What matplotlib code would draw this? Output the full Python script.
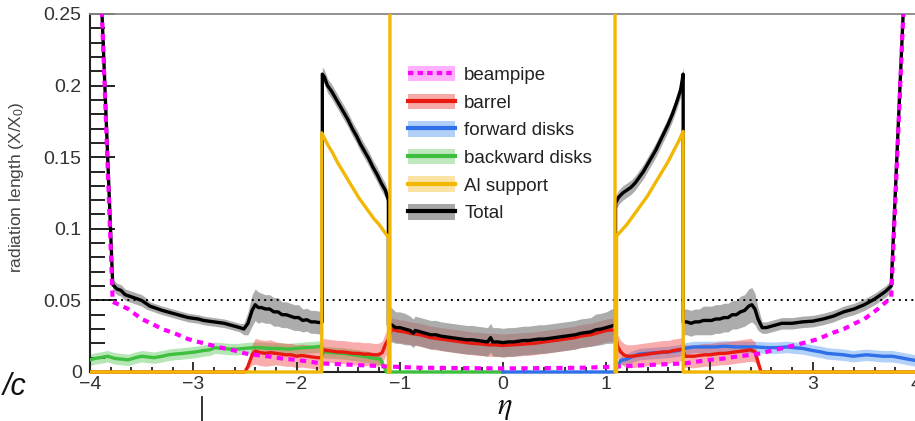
import numpy as np
import matplotlib
matplotlib.use('Agg')
import matplotlib.pyplot as plt
from matplotlib.lines import Line2D
from matplotlib.patches import Patch
from matplotlib.transforms import Bbox, TransformedBbox
from matplotlib.ticker import MultipleLocator

plt.rcParams['font.family'] = ['Liberation Sans', 'DejaVu Sans']
plt.rcParams['mathtext.fontset'] = 'custom'
plt.rcParams['mathtext.rm'] = 'Liberation Sans'
plt.rcParams['mathtext.it'] = 'Liberation Sans:italic'

# material budget vs eta, rows are (eta, X/X0, uncertainty)
total_rows = [
    (-3.90, 0.280, 0.004), (-3.78, 0.061, 0.004), (-3.74, 0.058, 0.004), (-3.70, 0.057, 0.004),
    (-3.66, 0.054, 0.004), (-3.62, 0.053, 0.004), (-3.58, 0.052, 0.004), (-3.54, 0.051, 0.004),
    (-3.50, 0.050, 0.004), (-3.46, 0.048, 0.004), (-3.42, 0.046, 0.003), (-3.38, 0.045, 0.003),
    (-3.34, 0.044, 0.003), (-3.30, 0.043, 0.003), (-3.25, 0.042, 0.003), (-3.20, 0.041, 0.003),
    (-3.15, 0.040, 0.003), (-3.10, 0.039, 0.003), (-3.05, 0.038, 0.003), (-3.00, 0.0375, 0.003),
    (-2.95, 0.037, 0.003), (-2.90, 0.036, 0.003), (-2.85, 0.0355, 0.003), (-2.80, 0.035, 0.003),
    (-2.75, 0.0345, 0.003), (-2.70, 0.034, 0.003), (-2.65, 0.033, 0.003), (-2.60, 0.032, 0.003),
    (-2.55, 0.031, 0.003), (-2.51, 0.030, 0.004), (-2.47, 0.034, 0.008), (-2.43, 0.043, 0.011),
    (-2.40, 0.047, 0.011), (-2.37, 0.045, 0.011), (-2.34, 0.045, 0.010), (-2.30, 0.044, 0.010),
    (-2.26, 0.044, 0.010), (-2.22, 0.042, 0.010), (-2.18, 0.042, 0.010), (-2.14, 0.040, 0.009),
    (-2.10, 0.040, 0.009), (-2.06, 0.039, 0.009), (-2.02, 0.038, 0.009), (-1.98, 0.038, 0.009),
    (-1.94, 0.036, 0.008), (-1.90, 0.0365, 0.008), (-1.86, 0.035, 0.008), (-1.82, 0.035, 0.008),
    (-1.78, 0.0345, 0.008), (-1.75, 0.035, 0.008),
    (-1.75, 0.208, 0.005), (-1.73, 0.206, 0.005), (-1.70, 0.200, 0.005), (-1.66, 0.196, 0.005),
    (-1.62, 0.191, 0.005), (-1.58, 0.186, 0.005), (-1.54, 0.181, 0.005), (-1.50, 0.176, 0.005),
    (-1.46, 0.170, 0.005), (-1.42, 0.165, 0.005), (-1.38, 0.159, 0.005), (-1.34, 0.154, 0.005),
    (-1.30, 0.149, 0.005), (-1.26, 0.143, 0.005), (-1.22, 0.138, 0.005), (-1.18, 0.132, 0.005),
    (-1.14, 0.127, 0.005), (-1.11, 0.120, 0.005),
    (-1.11, 0.033, 0.011), (-1.08, 0.033, 0.012), (-1.04, 0.031, 0.011), (-1.00, 0.031, 0.011),
    (-0.95, 0.030, 0.011), (-0.90, 0.029, 0.010), (-0.87, 0.027, 0.010), (-0.85, 0.029, 0.010),
    (-0.80, 0.028, 0.010), (-0.75, 0.027, 0.010), (-0.70, 0.026, 0.010), (-0.65, 0.026, 0.010),
    (-0.60, 0.025, 0.010), (-0.55, 0.0245, 0.010), (-0.50, 0.024, 0.010), (-0.45, 0.0235, 0.010),
    (-0.40, 0.023, 0.010), (-0.35, 0.0225, 0.010), (-0.30, 0.0225, 0.010), (-0.25, 0.022, 0.010),
    (-0.20, 0.0215, 0.010), (-0.15, 0.021, 0.010), (-0.12, 0.024, 0.010), (-0.10, 0.021, 0.010),
    (-0.05, 0.021, 0.010), (0.00, 0.0205, 0.010), (0.05, 0.021, 0.010), (0.10, 0.021, 0.010),
    (0.15, 0.0215, 0.010), (0.20, 0.022, 0.010), (0.25, 0.022, 0.010), (0.30, 0.0225, 0.010),
    (0.35, 0.023, 0.010), (0.40, 0.023, 0.010), (0.45, 0.0235, 0.010), (0.50, 0.024, 0.010),
    (0.55, 0.0245, 0.010), (0.60, 0.025, 0.010), (0.65, 0.0255, 0.010), (0.70, 0.026, 0.010),
    (0.75, 0.027, 0.010), (0.80, 0.0275, 0.010), (0.85, 0.028, 0.010), (0.90, 0.0295, 0.011),
    (0.95, 0.030, 0.011), (1.00, 0.031, 0.011), (1.05, 0.032, 0.012), (1.09, 0.033, 0.012),
    (1.09, 0.118, 0.005), (1.12, 0.122, 0.005), (1.16, 0.125, 0.005), (1.20, 0.127, 0.005),
    (1.24, 0.129, 0.005), (1.28, 0.132, 0.005), (1.32, 0.136, 0.005), (1.36, 0.140, 0.005),
    (1.40, 0.145, 0.005), (1.44, 0.150, 0.005), (1.48, 0.155, 0.005), (1.52, 0.161, 0.005),
    (1.56, 0.167, 0.005), (1.60, 0.173, 0.005), (1.64, 0.180, 0.005), (1.68, 0.188, 0.005),
    (1.72, 0.197, 0.005), (1.745, 0.208, 0.005),
    (1.745, 0.035, 0.009), (1.78, 0.035, 0.009), (1.82, 0.034, 0.009), (1.86, 0.035, 0.009),
    (1.90, 0.035, 0.009), (1.94, 0.036, 0.010), (1.98, 0.036, 0.010), (2.02, 0.036, 0.010),
    (2.06, 0.037, 0.010), (2.10, 0.037, 0.010), (2.14, 0.038, 0.010), (2.18, 0.038, 0.010),
    (2.22, 0.040, 0.010), (2.26, 0.040, 0.010), (2.30, 0.042, 0.011), (2.34, 0.043, 0.011),
    (2.38, 0.046, 0.012), (2.41, 0.047, 0.012), (2.44, 0.044, 0.011), (2.47, 0.037, 0.008),
    (2.51, 0.031, 0.004), (2.55, 0.031, 0.004), (2.60, 0.032, 0.004), (2.70, 0.034, 0.004),
    (2.80, 0.034, 0.004), (2.90, 0.035, 0.004), (3.00, 0.0355, 0.004), (3.10, 0.037, 0.004),
    (3.20, 0.039, 0.004), (3.30, 0.042, 0.004), (3.40, 0.044, 0.004), (3.50, 0.047, 0.004),
    (3.60, 0.051, 0.004), (3.70, 0.056, 0.004), (3.76, 0.060, 0.004), (3.90, 0.290, 0.004),
]

barrel_rows = [
    (-4.00, 0.0, 0.0), (-2.50, 0.0, 0.0), (-2.47, 0.004, 0.002), (-2.43, 0.012, 0.007),
    (-2.40, 0.0145, 0.009), (-2.35, 0.0135, 0.009), (-2.30, 0.013, 0.009), (-2.25, 0.0135, 0.009),
    (-2.20, 0.013, 0.008), (-2.15, 0.0125, 0.008), (-2.10, 0.012, 0.008), (-2.05, 0.012, 0.008),
    (-2.00, 0.011, 0.008), (-1.95, 0.0115, 0.008), (-1.90, 0.011, 0.008), (-1.85, 0.0105, 0.008),
    (-1.80, 0.010, 0.008), (-1.76, 0.010, 0.008), (-1.74, 0.0155, 0.008), (-1.70, 0.015, 0.008),
    (-1.65, 0.0145, 0.008), (-1.60, 0.014, 0.008), (-1.55, 0.014, 0.008), (-1.50, 0.0135, 0.008),
    (-1.45, 0.013, 0.008), (-1.40, 0.013, 0.008), (-1.35, 0.0125, 0.008), (-1.30, 0.0125, 0.008),
    (-1.25, 0.012, 0.008), (-1.21, 0.012, 0.008), (-1.17, 0.0135, 0.008), (-1.14, 0.019, 0.008),
    (-1.11, 0.023, 0.008), (-1.08, 0.030, 0.008), (-1.04, 0.029, 0.008), (-1.00, 0.0285, 0.008),
    (-0.95, 0.028, 0.008), (-0.90, 0.027, 0.008), (-0.85, 0.0265, 0.008), (-0.80, 0.026, 0.008),
    (-0.75, 0.025, 0.008), (-0.70, 0.024, 0.008), (-0.65, 0.0235, 0.008), (-0.60, 0.023, 0.008),
    (-0.55, 0.0225, 0.008), (-0.50, 0.022, 0.008), (-0.45, 0.0215, 0.008), (-0.40, 0.021, 0.008),
    (-0.35, 0.0205, 0.008), (-0.30, 0.020, 0.008), (-0.25, 0.0198, 0.008), (-0.20, 0.0195, 0.008),
    (-0.15, 0.019, 0.008), (-0.10, 0.019, 0.008), (-0.05, 0.0188, 0.008), (0.00, 0.0185, 0.008),
    (0.05, 0.0188, 0.008), (0.10, 0.019, 0.008), (0.15, 0.0192, 0.008), (0.20, 0.0195, 0.008),
    (0.25, 0.0198, 0.008), (0.30, 0.020, 0.008), (0.35, 0.0205, 0.008), (0.40, 0.021, 0.008),
    (0.45, 0.0215, 0.008), (0.50, 0.022, 0.008), (0.55, 0.0225, 0.008), (0.60, 0.023, 0.008),
    (0.65, 0.0235, 0.008), (0.70, 0.024, 0.008), (0.75, 0.025, 0.008), (0.80, 0.0255, 0.008),
    (0.85, 0.026, 0.008), (0.90, 0.027, 0.008), (0.95, 0.028, 0.008), (1.00, 0.029, 0.008),
    (1.05, 0.0295, 0.008), (1.08, 0.029, 0.008), (1.11, 0.018, 0.008), (1.14, 0.014, 0.008),
    (1.17, 0.012, 0.008), (1.20, 0.011, 0.008), (1.25, 0.011, 0.008), (1.30, 0.0115, 0.008),
    (1.35, 0.012, 0.008), (1.40, 0.0125, 0.008), (1.45, 0.013, 0.008), (1.50, 0.0135, 0.008),
    (1.55, 0.014, 0.008), (1.60, 0.014, 0.008), (1.65, 0.015, 0.008), (1.70, 0.0155, 0.008),
    (1.74, 0.016, 0.008), (1.76, 0.011, 0.008), (1.80, 0.011, 0.008), (1.85, 0.011, 0.008),
    (1.90, 0.0115, 0.008), (1.95, 0.012, 0.008), (2.00, 0.012, 0.008), (2.05, 0.0125, 0.008),
    (2.10, 0.013, 0.008), (2.15, 0.013, 0.008), (2.20, 0.0135, 0.008), (2.25, 0.014, 0.008),
    (2.30, 0.0145, 0.008), (2.35, 0.015, 0.008), (2.40, 0.0155, 0.008), (2.44, 0.014, 0.007),
    (2.47, 0.007, 0.004), (2.50, 0.0, 0.0), (4.00, 0.0, 0.0),
]

fwd_rows = [
    (0.00, 0.0, 0.0), (1.08, 0.0, 0.0), (1.11, 0.004, 0.002), (1.14, 0.008, 0.003),
    (1.20, 0.009, 0.004), (1.26, 0.011, 0.004), (1.32, 0.0125, 0.004), (1.40, 0.013, 0.004),
    (1.50, 0.0135, 0.004), (1.60, 0.014, 0.004), (1.70, 0.015, 0.004), (1.76, 0.0165, 0.004),
    (1.85, 0.0175, 0.004), (1.95, 0.0175, 0.004), (2.05, 0.0175, 0.004), (2.15, 0.018, 0.004),
    (2.25, 0.0175, 0.004), (2.35, 0.0175, 0.004), (2.45, 0.0175, 0.004), (2.55, 0.017, 0.004),
    (2.65, 0.017, 0.004), (2.75, 0.0175, 0.004), (2.81, 0.017, 0.004), (2.90, 0.0165, 0.004),
    (3.00, 0.015, 0.004), (3.08, 0.014, 0.004), (3.14, 0.013, 0.004), (3.22, 0.0125, 0.004),
    (3.30, 0.012, 0.004), (3.39, 0.011, 0.004), (3.45, 0.0115, 0.004), (3.52, 0.012, 0.004),
    (3.60, 0.0115, 0.004), (3.68, 0.011, 0.004), (3.77, 0.011, 0.004), (3.85, 0.010, 0.004),
    (3.92, 0.009, 0.004), (4.00, 0.008, 0.004),
]

bwd_rows = [
    (-4.00, 0.0085, 0.004), (-3.95, 0.0095, 0.004), (-3.90, 0.010, 0.004), (-3.83, 0.011, 0.004),
    (-3.76, 0.0095, 0.004), (-3.70, 0.009, 0.004), (-3.63, 0.0085, 0.004), (-3.56, 0.010, 0.004),
    (-3.50, 0.011, 0.004), (-3.44, 0.0105, 0.004), (-3.38, 0.010, 0.004), (-3.30, 0.011, 0.004),
    (-3.24, 0.012, 0.004), (-3.18, 0.0125, 0.004), (-3.10, 0.013, 0.004), (-3.04, 0.0135, 0.004),
    (-2.98, 0.014, 0.004), (-2.90, 0.015, 0.004), (-2.84, 0.0155, 0.004), (-2.79, 0.017, 0.004),
    (-2.72, 0.0165, 0.004), (-2.65, 0.016, 0.004), (-2.57, 0.016, 0.004), (-2.50, 0.0165, 0.004),
    (-2.42, 0.017, 0.004), (-2.34, 0.017, 0.004), (-2.26, 0.0165, 0.004), (-2.18, 0.0165, 0.004),
    (-2.08, 0.016, 0.004), (-2.00, 0.0165, 0.004), (-1.92, 0.017, 0.004), (-1.82, 0.0175, 0.004),
    (-1.76, 0.018, 0.004), (-1.74, 0.014, 0.004), (-1.65, 0.0135, 0.004), (-1.55, 0.013, 0.004),
    (-1.45, 0.012, 0.004), (-1.35, 0.011, 0.004), (-1.25, 0.0095, 0.004), (-1.19, 0.009, 0.004),
    (-1.16, 0.005, 0.002), (-1.13, 0.0, 0.0), (0.00, 0.0, 0.0),
]

eta_pipe = [-3.90, -3.78, -3.63, -3.50, -3.41, -3.30, -3.18, -3.05, -2.95, -2.84, -2.73,
            -2.60, -2.50, -2.40, -2.28, -2.15, -2.01, -1.90, -1.76, -1.60, -1.45, -1.30,
            -1.15, -1.00, -0.80, -0.50, -0.20, 0.00, 0.20, 0.50, 0.80, 1.00, 1.15, 1.30,
            1.45, 1.60, 1.76, 1.90, 2.01, 2.15, 2.28, 2.40, 2.50, 2.60, 2.73, 2.84, 2.95,
            3.05, 3.18, 3.30, 3.41, 3.50, 3.63, 3.76, 3.90]
beampipe = [0.280, 0.049, 0.044, 0.037, 0.034, 0.030, 0.027, 0.023, 0.021, 0.019, 0.017,
            0.015, 0.013, 0.012, 0.011, 0.0095, 0.0085, 0.0075, 0.006, 0.0055, 0.005, 0.0045,
            0.004, 0.0035, 0.003, 0.0028, 0.0026, 0.0025, 0.0026, 0.0028, 0.003, 0.0035, 0.004,
            0.0045, 0.005, 0.0055, 0.006, 0.0075, 0.0085, 0.0095, 0.011, 0.012, 0.013, 0.015,
            0.017, 0.019, 0.021, 0.023, 0.027, 0.030, 0.034, 0.037, 0.044, 0.052, 0.290]

eta_al = [-4.00, -1.755, -1.755, -1.70, -1.65, -1.60, -1.55, -1.50, -1.45, -1.40, -1.35,
          -1.30, -1.25, -1.20, -1.15, -1.11, -1.11, -1.095, -1.095, 1.085, 1.085, 1.10, 1.10,
          1.15, 1.20, 1.25, 1.30, 1.35, 1.40, 1.45, 1.50, 1.55, 1.60, 1.65, 1.70, 1.745,
          1.745, 4.00]
al_support = [0.0, 0.0, 0.167, 0.159, 0.153, 0.146, 0.140, 0.134, 0.128, 0.122, 0.117,
              0.112, 0.107, 0.103, 0.098, 0.094, 0.0, 0.0, 1.0, 1.0, 0.0, 0.0, 0.095,
              0.099, 0.103, 0.108, 0.113, 0.118, 0.123, 0.129, 0.135, 0.141, 0.147, 0.154,
              0.161, 0.168, 0.0, 0.0]

labels = ['beampipe', 'barrel', 'forward disks', 'backward disks', 'Al support', 'Total']


def unpack(rows):
    e, v, s = (np.array(c) for c in zip(*rows))
    return e, v, s


fig = plt.figure(figsize=(9.15, 4.21), dpi=100)
ax = fig.add_axes([90 / 915, 49 / 421, 826 / 915, 358 / 421])
# let lines sitting on zero keep their full width below the frame
clip = TransformedBbox(Bbox([[0, -0.015], [1, 1]]), ax.transAxes)

series = [
    (bwd_rows, '#3fbf3f', '#3fbf3f', 0.38),
    (fwd_rows, '#2f6fe8', '#3c8cf0', 0.40),
    (barrel_rows, '#e8190e', '#f03030', 0.40),
    (total_rows, 'black', '#7a7a7a', 0.62),
]
for i, (rows, col, bcol, alpha) in enumerate(series):
    e, v, s = unpack(rows)
    fb = ax.fill_between(e, v - s, v + s, color=bcol, alpha=alpha, lw=0, zorder=1)
    fb.set_clip_box(clip)
    ln, = ax.plot(e, v, color=col, lw=2.4, zorder=3 + i)
    ln.set_clip_box(clip)

ln, = ax.plot(eta_pipe, beampipe, color='#ff00ff', lw=3, dashes=(1.5, 1.3), zorder=8)
ln.set_clip_box(clip)
ln, = ax.plot(eta_al, al_support, color='#f2b705', lw=2.4, zorder=9)
ln.set_clip_box(clip)

ax.axhline(0.05, color='black', lw=1.4, dashes=(1, 2.2), zorder=2)

ax.set_xlim(-4, 4)
ax.set_ylim(0, 0.25)
ax.xaxis.set_major_locator(MultipleLocator(1))
ax.xaxis.set_minor_locator(MultipleLocator(0.2))
ax.yaxis.set_major_locator(MultipleLocator(0.05))
ax.yaxis.set_minor_locator(MultipleLocator(0.01))
ax.yaxis.set_major_formatter(plt.FuncFormatter(lambda v, p: '0' if v == 0 else f'{v:g}'))
ax.xaxis.set_major_formatter(plt.FuncFormatter(lambda v, p: f'{v:g}'.replace('-', '\u2212')))
ax.tick_params(axis='y', which='major', direction='in', length=18, width=1.4, pad=6,
               labelsize=14, labelcolor='#333333', color='#222222')
ax.tick_params(axis='y', which='minor', direction='in', length=11, width=1.4, color='#222222')
ax.tick_params(axis='x', which='major', direction='in', length=7, width=1.3, pad=3,
               labelsize=14, labelcolor='#333333', color='#222222')
ax.tick_params(axis='x', which='minor', direction='in', length=3.6, width=1.3, color='#222222')

ax.spines['top'].set_color('#888888')
ax.spines['top'].set_linewidth(1.3)
ax.spines['right'].set_visible(False)
for side in ('left', 'bottom'):
    ax.spines[side].set_color('#222222')
    ax.spines[side].set_linewidth(1.5)

ax.set_ylabel('radiation length (X/X$_0$)', fontsize=12.5, color='#444444')
ax.yaxis.set_label_coords(-0.078, 0.517)
ax.set_xlabel('η', fontfamily='STIXGeneral', fontstyle='italic', fontsize=22, color='#111111')
ax.xaxis.set_label_coords(0.502, -0.057)

handles = [
    (Patch(facecolor='#ffb0ff', edgecolor='none'),
     Line2D([], [], color='#ff00ff', lw=3, dashes=(1.3, 1.0))),
    (Patch(facecolor='#f6a9a6', edgecolor='none'), Line2D([], [], color='#e8190e', lw=3)),
    (Patch(facecolor='#b0d0f8', edgecolor='none'), Line2D([], [], color='#2f6fe8', lw=3)),
    (Patch(facecolor='#bfe8bf', edgecolor='none'), Line2D([], [], color='#3fbf3f', lw=3)),
    (Patch(facecolor='#fbe3a4', edgecolor='none'), Line2D([], [], color='#f2b705', lw=3)),
    (Patch(facecolor='#a6a6a6', edgecolor='none'), Line2D([], [], color='black', lw=3)),
]
ax.legend(handles, labels, loc='upper left', bbox_to_anchor=(0.385, 0.855), frameon=False,
          fontsize=13.5, handlelength=2.5, handleheight=0.9, labelspacing=0.5,
          handletextpad=0.5, borderpad=0, borderaxespad=0, labelcolor='#222222')

# bits of the neighbouring panel
fig.text(0.003, 1 - 387 / 421, '/c', fontsize=22, style='italic', color='#111111',
         ha='left', va='center')
fig.add_artist(Line2D([202 / 915, 202 / 915], [0, 24 / 421], color='#222222', lw=1.3,
                      transform=fig.transFigure))

fig.savefig('out.png', dpi=100)
